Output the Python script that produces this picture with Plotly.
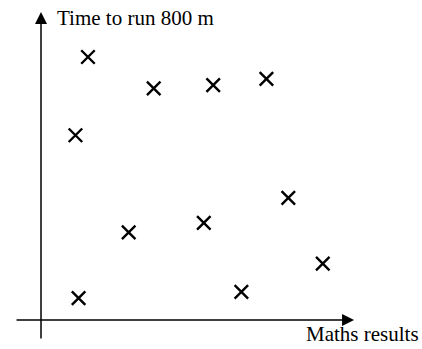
import plotly.graph_objects as go

# arbitrary units (no scale on the original)
maths_results = [1.5, 3.6, 5.5, 7.2, 1.1, 7.9, 2.8, 5.2, 9.0, 1.2, 6.4]
time_800m = [8.4, 7.4, 7.5, 7.7, 5.9, 3.9, 2.8, 3.1, 1.8, 0.7, 0.9]

x_label = "Maths results"
y_label = "Time to run 800 m"

font = dict(family="Liberation Serif, Times New Roman, serif", size=21, color="black")

fig = go.Figure()

fig.add_trace(
    go.Scatter(
        x=maths_results,
        y=time_800m,
        mode="markers",
        marker=dict(symbol="x-thin", size=13.5, line=dict(width=2.4, color="black")),
        showlegend=False,
        hoverinfo="skip",
    )
)

# hand-drawn style axes with arrows
fig.add_annotation(
    x=10, y=0, ax=-0.83, ay=0, xref="x", yref="y", axref="x", ayref="y",
    text="", showarrow=True, arrowhead=2, arrowsize=1.6, arrowwidth=1.5, arrowcolor="black",
)
fig.add_annotation(
    x=0, y=9.84, ax=0, ay=-0.64, xref="x", yref="y", axref="x", ayref="y",
    text="", showarrow=True, arrowhead=2, arrowsize=1.6, arrowwidth=1.5, arrowcolor="black",
)

fig.add_annotation(
    x=0.45, y=9.65, text=y_label, showarrow=False, xanchor="left", yanchor="middle", font=font,
)
fig.add_annotation(
    x=12.15, y=-0.45, text=x_label, showarrow=False, xanchor="right", yanchor="middle", font=font,
)

fig.update_xaxes(visible=False, range=[-1.31, 12.17])
fig.update_yaxes(visible=False, range=[-0.927, 10.22])
fig.update_layout(
    width=422,
    height=349,
    margin=dict(l=0, r=0, t=0, b=0),
    paper_bgcolor="white",
    plot_bgcolor="white",
)

fig.write_html(
    "out.html",
    config={"displayModeBar": False},
    post_script="document.body.style.margin='0';",
)
